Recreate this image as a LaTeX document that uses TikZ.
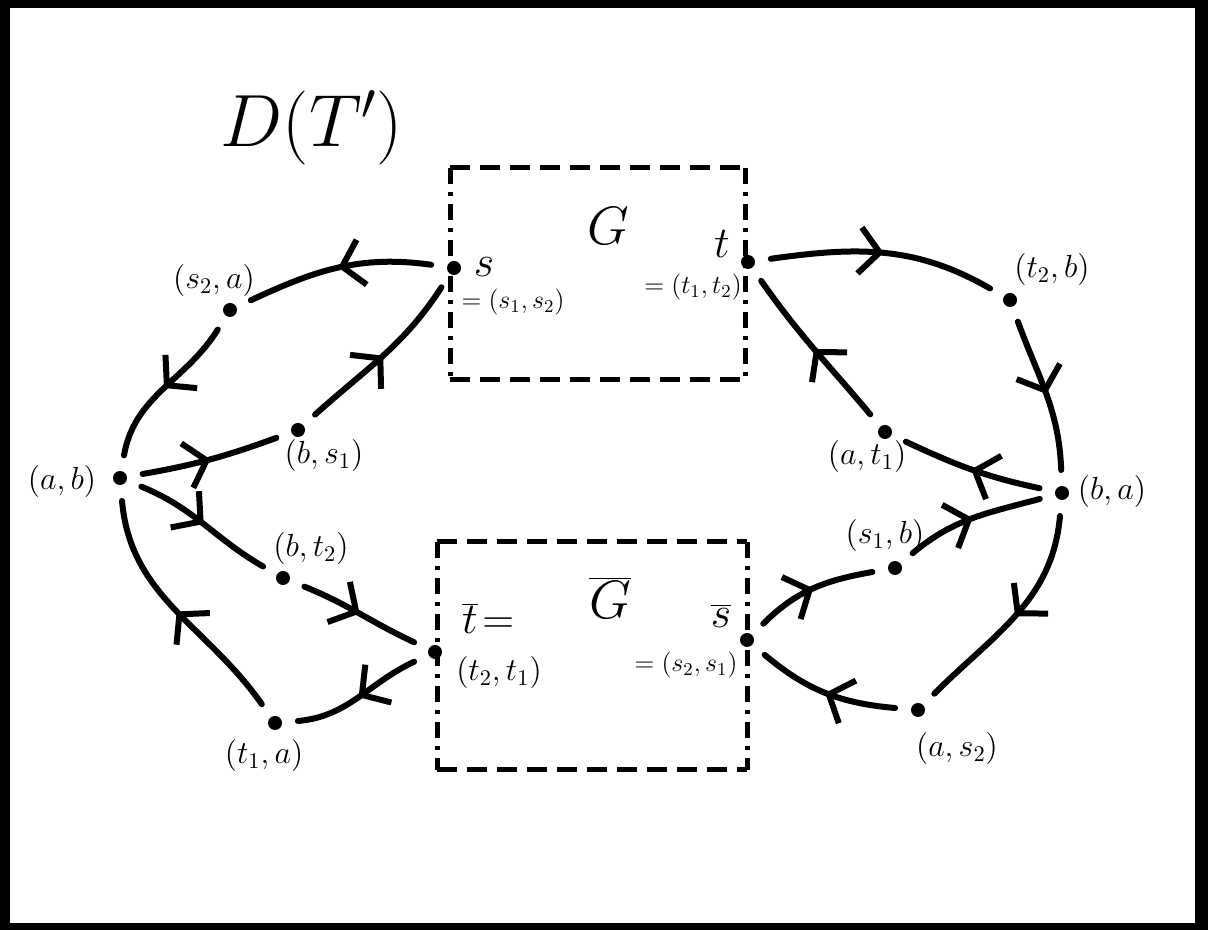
\RequirePackage{fix-cm}
\documentclass[tikz,border=0pt]{standalone}
\usetikzlibrary{arrows.meta,decorations.markings}
\begin{document}
\begin{tikzpicture}[x=0.5pt,y=0.5pt]
\tikzset{
  edge/.style={line width=3pt, line cap=round},
  marr/.style={postaction={decorate,decoration={markings,mark=at position #1 with {\arrow[line width=3pt]{Straight Barb[length=10pt,width=23pt]}}}}},
  marr/.default=0.5,
  vtx/.style={circle,fill=black,inner sep=0pt,minimum size=7pt,outer sep=8pt},
  lbl/.style={inner sep=0pt,font=\fontsize{16}{18}\selectfont},
  eqlbl/.style={inner sep=0pt,font=\fontsize{13}{15}\selectfont},
  biglbl/.style={inner sep=0pt,font=\fontsize{22}{26}\selectfont},
  hbox/.style={line width=2.5pt, dash pattern=on 10pt off 5pt},
  vbox/.style={line width=2.5pt, dash pattern=on 8pt off 4pt on 2pt off 4pt},
}
\useasboundingbox (0,0) rectangle (1208,930);
\fill[black] (0,0) rectangle (1208,930);
\fill[white] (10,7) rectangle (1195,922);

% title
\node[inner sep=0pt,font=\fontsize{37}{42}\selectfont] (title) at (312,802) {$D(T')$};

% boxes
\coordinate (g1) at (450,762); \coordinate (g2) at (745,762);
\coordinate (g3) at (745,550); \coordinate (g4) at (450,550);
\draw[hbox] (g1) -- (g2); \draw[hbox] (g4) -- (g3);
\draw[vbox] (g1) -- (g4); \draw[vbox] (g2) -- (g3);
\coordinate (h1) at (437,388); \coordinate (h2) at (747,388);
\coordinate (h3) at (747,160); \coordinate (h4) at (437,160);
\draw[hbox] (h1) -- (h2); \draw[hbox] (h4) -- (h3);
\draw[vbox] (h1) -- (h4); \draw[vbox] (h2) -- (h3);

\node[inner sep=0pt,font=\fontsize{27}{30}\selectfont] (Glbl) at (608,704) {$G$};
\node[inner sep=0pt,font=\fontsize{27}{30}\selectfont] (Gbar) at (610,332) {$\overline{G}$};

% vertices
\node[vtx] (s) at (454,662) {};
\node[vtx] (t) at (748,668) {};
\node[vtx] (s2a) at (230,620) {};
\node[vtx] (bs1) at (298,500) {};
\node[vtx] (ab) at (120,452) {};
\node[vtx] (bt2) at (283,352) {};
\node[vtx] (tbar) at (435,278) {};
\node[vtx] (t1a) at (275,207) {};
\node[vtx] (t2b) at (1010,630) {};
\node[vtx] (at1) at (885,498) {};
\node[vtx] (ba) at (1062,437) {};
\node[vtx] (s1b) at (895,362) {};
\node[vtx] (sbar) at (747,290) {};
\node[vtx] (as2) at (918,220) {};

% labels
\node[biglbl] (sl) at (484,663) {$s$};
\node[eqlbl] (sl2) at (513,628) {$=(s_1,s_2)$};
\node[biglbl] (tl) at (722,686) {$t$};
\node[eqlbl] (tl2) at (693,643) {$=(t_1,t_2)$};
\node[biglbl,anchor=base] (tbl) at (470,296) {$\overline{t}$};
\node[biglbl,anchor=base west] (tbleq) at (482,296) {$=$};
\node[lbl] (tbl2) at (499,257) {$(t_2,t_1)$};
\node[biglbl] (sbl) at (721,314) {$\overline{s}$};
\node[eqlbl] (sbl2) at (686,265) {$=(s_2,s_1)$};

\node[lbl] (l1) at (214,649) {$(s_2,a)$};
\node[lbl] (l2) at (324,474) {$(b,s_1)$};
\node[lbl] (l3) at (62,448) {$(a,b)$};
\node[lbl] (l4) at (311,381) {$(b,t_2)$};
\node[lbl] (l5) at (264,174) {$(t_1,a)$};
\node[lbl] (l6) at (1052,660) {$(t_2,b)$};
\node[lbl] (l7) at (867,473) {$(a,t_1)$};
\node[lbl] (l8) at (1112,438) {$(b,a)$};
\node[lbl] (l9) at (885,394) {$(s_1,b)$};
\node[lbl] (l10) at (957,181) {$(a,s_2)$};

% edges
\draw[edge,marr] (s) to[out=172,in=25] (s2a);
\draw[edge,marr] (s2a) to[out=238,in=80] (ab);
\draw[edge,marr] (ab) to[out=10,in=200] (bs1);
\draw[edge,marr] (bs1) to[out=42,in=237] (s);
\draw[edge,marr] (ab) to[out=-22,in=150] (bt2);
\draw[edge,marr] (bt2) to[out=-22,in=155] (tbar);
\draw[edge,marr] (tbar) to[out=205,in=5] (t1a);
\draw[edge,marr] (t1a) to[out=125,in=-85] (ab);
\draw[edge,marr] (t) to[out=8,in=150] (t2b);
\draw[edge,marr] (t2b) to[out=-70,in=92] (ba);
\draw[edge,marr] (ba) to[out=168,in=-25] (at1);
\draw[edge,marr] (at1) to[out=130,in=-55] (t);
\draw[edge,marr] (sbar) to[out=45,in=190] (s1b);
\draw[edge,marr] (s1b) to[out=40,in=195] (ba);
\draw[edge,marr] (ba) to[out=-95,in=45] (as2);
\draw[edge,marr] (as2) to[out=175,in=-40] (sbar);
\end{tikzpicture}
\end{document}
